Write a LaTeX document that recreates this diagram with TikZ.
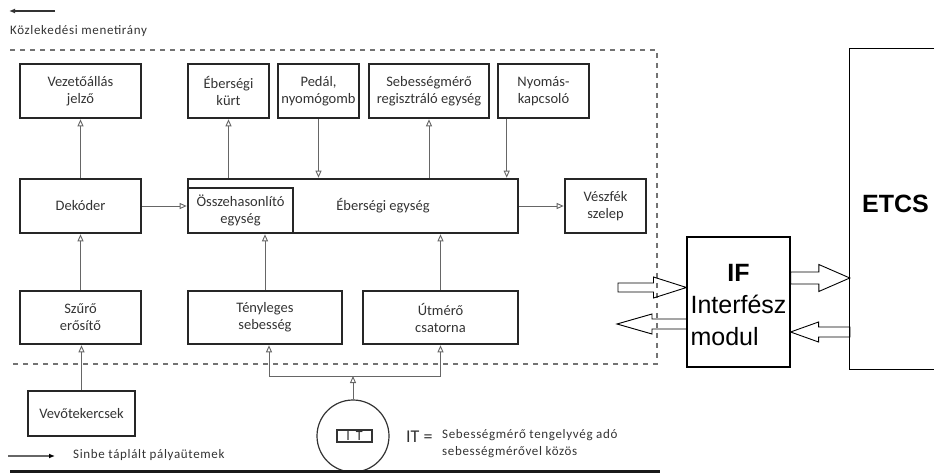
\documentclass[tikz,border=0pt]{standalone}
\usepackage{fontspec}
\setmainfont{Carlito}
\newfontfamily\arialfont{Liberation Sans}
\newfontfamily\widefont[LetterSpace=5]{Carlito}
\usetikzlibrary{arrows.meta,calc}

\newcommand{\fatarrow}[5]{%
  \draw[fatarr] let \p1=(#1), \p2=(#2), \n1={sign(\x2-\x1)}, \n2={\x2-\n1*#5pt} in
    (\x1,\y1+#3pt) -- (\n2,\y1+#3pt) -- (\n2,\y1+#4pt) -- (\x2,\y1)
    -- (\n2,\y1-#4pt) -- (\n2,\y1-#3pt) -- (\x1,\y1-#3pt) -- cycle;}

\begin{document}
\begin{tikzpicture}[x=1pt, y=-1pt, >={Triangle[open,length=7pt,width=6pt]},
    blk/.style={draw=black!85, line width=2.6pt, minimum height=54pt, align=center,
      inner sep=1pt, text=black!80, font=\fontsize{14.5}{17}\selectfont},
    link/.style={draw=black!60, line width=0.9pt},
    fatarr/.style={draw=black, line width=0.9pt},
    lgd/.style={text=black!80, font=\widefont\fontsize{13}{17}\selectfont, inner sep=0pt}]

    \useasboundingbox (0,0) rectangle (935,473);

    \draw[black!55, line width=1.3pt, dash pattern=on 5pt off 5pt] (10,50) -- (657,50) -- (657,364) -- (10,364);

    \node[blk, minimum width=121pt] (vez) at (80.5,91) {Vezetőállás\\jelző};
    \node[blk, minimum width=81pt] (kurt) at (228.5,91) {Éberségi\\kürt};
    \node[blk, minimum width=81pt] (pedal) at (318.5,91) {Pedál,\\nyomógomb};
    \node[blk, minimum width=120pt] (seb) at (429,91) {Sebességmérő\\regisztráló egység};
    \node[blk, minimum width=91pt] (nyom) at (543.5,91) {Nyomás-\\kapcsoló};

    \node[blk, minimum width=121pt] (dek) at (80.5,206) {Dekóder};
    \node[blk, minimum width=330pt] (eber) at (353,206) {};
    \node[text=black!80, font=\fontsize{14.5}{17}\selectfont] (eberlbl) at (383,206) {Éberségi egység};
    \node[blk, minimum width=105pt, minimum height=45pt] (ossz) at (240.5,210.5) {Összehasonlító\\egység};
    \node[blk, minimum width=81pt] (vesz) at (605.5,206) {Vészfék\\szelep};

    \node[blk, minimum width=121pt, minimum height=53pt] (szuro) at (80.5,317.5) {Szűrő\\erősítő};
    \node[blk, minimum width=154pt, minimum height=53pt] (teny) at (265,317.5) {Tényleges\\sebesség};
    \node[blk, minimum width=155pt, minimum height=53pt] (ut) at (440.5,317.5) {Útmérő\\csatorna};
    \node[blk, minimum width=107pt, minimum height=45pt, line width=1.8pt] (vevo) at (81.5,413.5) {Vevőtekercsek};

    \coordinate (nyomout) at ($(nyom.south west)+(10,0)$);
    \coordinate (spl) at (353,376);

    \draw[link,->] (dek.north) -- (vez.south);
    \draw[link,->] (kurt.south |- eber.north) -- (kurt.south);
    \draw[link,->] (pedal.south) -- (pedal.south |- eber.north);
    \draw[link,->] (seb.south |- eber.north) -- (seb.south);
    \draw[link,->] (nyomout) -- (nyomout |- eber.north);
    \draw[link,->] (dek.east) -- (dek.east -| ossz.west);
    \draw[link,->] (eber.east) -- (vesz.west);
    \draw[link,->] (szuro.north) -- (dek.south);
    \draw[link,->] (teny.north) -- (teny.north |- ossz.south);
    \draw[link,->] (ut.north) -- (ut.north |- eber.south);
    \draw[link,->] (vevo.north) -- (vevo.north |- szuro.south);
    \draw[link,<->] ([xshift=4pt]teny.south) -- ([xshift=4pt]teny.south |- spl) -- (ut.south |- spl) -- (ut.south);

    \node[draw=black!80, line width=1.2pt, circle, minimum size=72pt, inner sep=0pt] (it) at (353,436) {};
    \node[draw=black!80, line width=1.5pt, minimum width=35pt, minimum height=12pt, inner sep=0pt,
      text=black!80, font=\fontsize{14}{14}\selectfont] (itbox) at (354.5,436) {I\hspace{6pt}T};
    \draw[link,->] (it.north) -- (spl);
    \draw[black!90, line width=3pt] (10,471) -- (660,471);

    \node[lgd, font=\fontsize{18}{20}\selectfont, anchor=west] (iteq) at (406,437) {IT =};
    \node[lgd, align=left, anchor=west] (itdesc) at (442,444) {Sebességmérő tengelyvég adó\\sebességmérővel közös};

    \coordinate (dirfrom) at (55,11);
    \coordinate (dirto) at (9,11);
    \draw[black!80, line width=1.5pt, -{Latex[length=6pt,width=5pt]}] (dirfrom) -- (dirto);
    \node[lgd, anchor=west] (dirlbl) at (10,31) {Közlekedési menetirány};

    \coordinate (pulsefrom) at (8,456);
    \coordinate (pulseto) at (55,456);
    \draw[black!60, line width=1.2pt, -{Latex[length=6pt,width=5pt,color=black]}] (pulsefrom) -- (pulseto);
    \node[lgd, anchor=west] (pulselbl) at (73,455) {Sinbe táplált pályaütemek};

    \node[draw, line width=1.1pt, minimum width=103pt, minimum height=130pt, inner sep=0pt,
      font=\arialfont\fontsize{25}{32}\selectfont] (ifm) at (738.5,302)
      {\begin{tabular}{@{}l@{}}\multicolumn{1}{@{}c@{}}{\rule{0pt}{33.6pt}\bfseries IF}\\Interfész\\modul\end{tabular}};
    \node[minimum width=84pt, minimum height=320pt, inner sep=0pt, text depth=10pt,
      font=\arialfont\bfseries\fontsize{25}{30}\selectfont] (etcs) at (892,209) {\hspace*{7pt}ETCS};
    \draw[line width=1.1pt] (etcs.north east) -| (etcs.south west) -- (etcs.south east);

    \coordinate (sigin) at (618,287.5);
    \coordinate (sigout) at (617,324);
    \coordinate (toetcs) at (800,278);
    \coordinate (frometcs) at (800,332);
    \fatarrow{sigin}{ifm.west |- sigin}{4.5}{10.5}{33}
    \fatarrow{ifm.west |- sigout}{sigout}{5}{10}{35}
    \fatarrow{ifm.east |- toetcs}{etcs.west |- toetcs}{6}{13.5}{31}
    \fatarrow{etcs.west |- frometcs}{ifm.east |- frometcs}{5}{10}{28}
\end{tikzpicture}
\end{document}
